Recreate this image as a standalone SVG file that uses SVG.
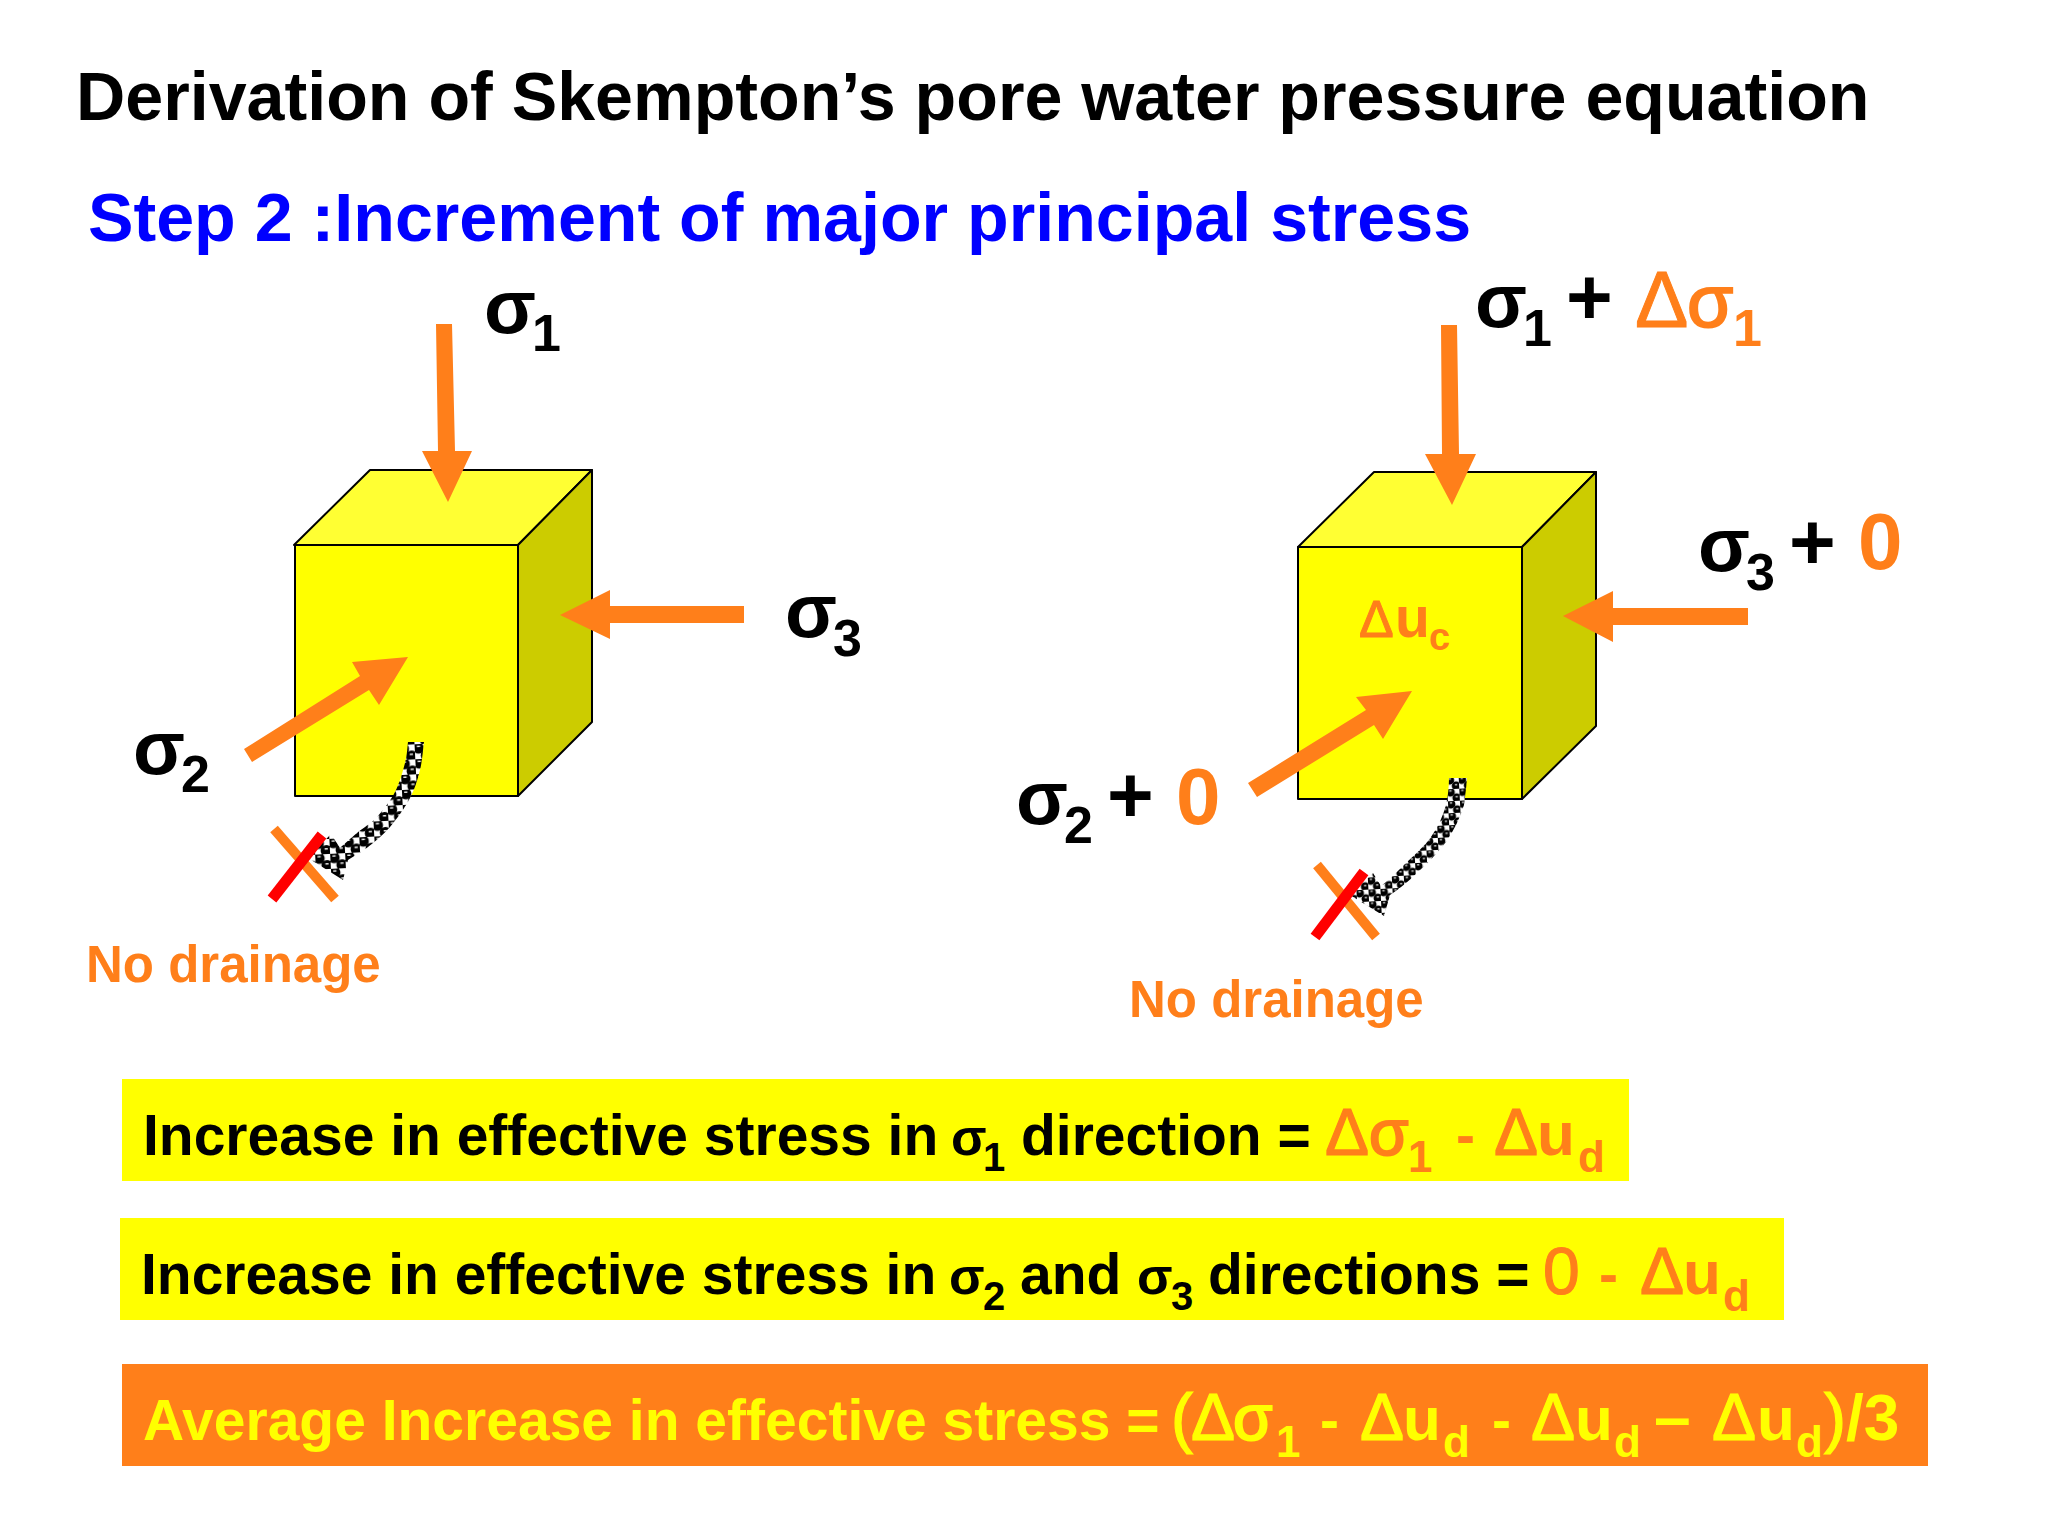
<svg xmlns="http://www.w3.org/2000/svg" width="2048" height="1536" viewBox="0 0 2048 1536">
<style>
text{font-family:"Liberation Sans",Arial,sans-serif;font-weight:700}
.k{fill:#000}.o{fill:#FF7F1A}.y{fill:#FFFF00}.b{fill:#0000FF}
.big{font-size:76px}.sub{font-size:52px}.plus{font-size:80px}
.t{font-size:57px}.s{font-size:52px}.sb{font-size:40px}
.r{font-weight:400;font-size:66px;stroke-width:1.2px}.o .r{stroke:#FF7F1A}.y .r{stroke:#FFFF00}
.rb{font-weight:400;font-size:64px;stroke-width:2px}.o .rb{stroke:#FF7F1A}.y .rb{stroke:#FFFF00}
.rs{font-weight:700;font-size:44px}.u{font-size:62px}
.R{font-weight:400;font-size:80px;stroke:#FF7F1A;stroke-width:1px}.Rb{font-weight:400;font-size:75px;stroke:#FF7F1A;stroke-width:2px}
.nd{font-size:51px}
.face{stroke:#000;stroke-width:2;stroke-linejoin:round}
.arr{fill:#FF7F1A}
.xo{stroke:#FF7F1A;stroke-width:10}.xr{stroke:#FF0000;stroke-width:11}
</style>
<defs>
<pattern id="chk" width="15" height="15" patternUnits="userSpaceOnUse" patternTransform="rotate(-3)">
<rect width="15" height="15" fill="#fff"/>
<rect x="0" y="0.5" width="7.5" height="7" fill="#000"/><rect x="7.5" y="8" width="7.5" height="7" fill="#000"/>
<circle cx="3.75" cy="4" r="5.6" fill="#000"/><circle cx="11.25" cy="11.5" r="5.6" fill="#000"/>
<rect x="2.2" y="1.6" width="3.2" height="1.4" fill="#fff"/><rect x="9.7" y="9.1" width="3.2" height="1.4" fill="#fff"/>
</pattern>
<pattern id="chk2" width="12" height="12" patternUnits="userSpaceOnUse" patternTransform="rotate(-3)">
<rect width="12" height="12" fill="#fff"/>
<circle cx="3" cy="3" r="4.4" fill="#000"/><circle cx="9" cy="9" r="4.4" fill="#000"/>
<rect x="1.8" y="1.3" width="2.4" height="1.1" fill="#fff"/><rect x="7.8" y="7.3" width="2.4" height="1.1" fill="#fff"/>
</pattern>
</defs>
<rect width="2048" height="1536" fill="#fff"/>

<g id="title"><text x="76" y="120" font-size="68.2" class="k">Derivation of Skempton’s pore water pressure equation</text></g>
<g id="subtitle"><text x="88" y="241" font-size="68.2" class="b">Step 2 :Increment of major principal stress</text></g>

<g id="cube-left">
<polygon class="face" points="294,545 370,470 592,470 518,545" fill="#FFFF33"/>
<polygon class="face" points="518,545 592,470 592,722 518,796" fill="#CCCC00"/>
<rect class="face" x="295" y="545" width="223" height="251" fill="#FFFF00"/>
</g>
<g id="cube-right">
<polygon class="face" points="1298,547 1374,472 1596,472 1522,547" fill="#FFFF33"/>
<polygon class="face" points="1522,547 1596,472 1596,726 1522,799" fill="#CCCC00"/>
<rect class="face" x="1298" y="547" width="224" height="252" fill="#FFFF00"/>
<text x="1359" y="637" class="o"><tspan style="font-weight:400;font-size:52px;stroke:#FF7F1A;stroke-width:1px">Δ</tspan><tspan x="1395" font-size="57">u</tspan><tspan x="1429" y="650" font-size="38">c</tspan></text>
</g>

<g id="connectors">
<polygon class="arr" points="436,324 452,324 455,451 472,451 448,502 422,451 438,451"/>
<polygon class="arr" points="744,606 744,623 610,623 610,639 560,615 610,590 610,606"/>
<polygon class="arr" points="244,749 252,762 369,690 379,705 408,657 352,662 360,676"/>
<polygon class="arr" points="1441,325 1457,325 1459,454 1476,454 1452,505 1425,454 1442,454"/>
<polygon class="arr" points="1748,608 1748,625 1613,625 1613,642 1563,616 1613,591 1613,608"/>
<polygon class="arr" points="1248,783 1257,797 1374,725 1383,739 1412,691 1356,697 1366,710"/>

<path fill="url(#chk)" d="M408,742 L424,742 C423.3,746.7 422.3,760.7 420,770 C417.7,779.3 415,788.5 410,798 C405,807.5 397,818.8 390,827 C383,835.2 375,841.5 368,847 C361,852.5 351.3,857.8 348,860 L343,880 L308,858 L331,834 L340,848 C342.8,845.5 350.8,838.2 357,833 C363.2,827.8 370.7,823.8 377,817 C383.3,810.2 390.3,801 395,792 C399.7,783 402.8,771.3 405,763 C407.2,754.7 407.5,745.5 408,742Z"/>
<line class="xo" x1="274" y1="829" x2="335" y2="899"/>
<line class="xr" x1="272" y1="899" x2="322" y2="835"/>

<path fill="url(#chk2)" d="M1449,778 L1467,778 C1466,790 1465,797 1464,805 C1460,818 1454,830 1446,842 C1437,853 1428,863 1417,873 C1409,881 1399,889 1390,895 L1384,916 L1350,895 L1373,873 L1381,886 C1390,879 1396,873 1405,864 C1414,855 1424,847 1431,837 C1438,827 1443,816 1446,805 C1448,796 1449,786 1449,778Z"/>
<line class="xo" x1="1317" y1="865" x2="1376" y2="937"/>
<line class="xr" x1="1364" y1="872" x2="1315" y2="937"/>
</g>

<g id="labels-left">
<text class="k"><tspan class="big" x="484" y="333">σ</tspan><tspan class="sub" x="532" y="351">1</tspan></text>
<text class="k"><tspan class="big" x="785" y="637">σ</tspan><tspan class="sub" x="833" y="656">3</tspan></text>
<text class="k"><tspan class="big" x="133" y="774">σ</tspan><tspan class="sub" x="181" y="792">2</tspan></text>
<text class="o nd" x="86" y="982">No drainage</text>
</g>
<g id="labels-right">
<text class="k"><tspan class="big" x="1475" y="327">σ</tspan><tspan class="sub" x="1523" y="346">1</tspan><tspan class="plus" x="1566" y="324">+</tspan></text>
<text class="o"><tspan class="R" x="1635" y="327">Δ</tspan><tspan class="Rb" x="1687">σ</tspan><tspan class="sub" x="1733" y="346">1</tspan></text>
<text class="k"><tspan class="big" x="1698" y="571">σ</tspan><tspan class="sub" x="1746" y="590">3</tspan><tspan class="plus" x="1789" y="569">+</tspan></text>
<text class="o plus" x="1858" y="569">0</text>
<text class="k"><tspan class="big" x="1016" y="824">σ</tspan><tspan class="sub" x="1064" y="843">2</tspan><tspan class="plus" x="1107" y="822">+</tspan></text>
<text class="o plus" x="1176" y="824">0</text>
<text class="o nd" x="1129" y="1017">No drainage</text>
</g>

<g id="bar-1">
<rect x="122" y="1079" width="1507" height="102" fill="#FFFF00"/>
<text class="k t"><tspan x="143" y="1155">Increase in effective stress in</tspan><tspan class="s" x="951">σ</tspan><tspan class="sb" x="983" y="1171">1</tspan><tspan x="1021" y="1155">direction =</tspan></text>
<text class="o t"><tspan class="r" x="1325" y="1155">Δ</tspan><tspan class="rb" x="1369">σ</tspan><tspan class="rs" x="1408" y="1172">1</tspan><tspan x="1456" y="1155">-</tspan><tspan class="r" x="1494">Δ</tspan><tspan class="u" x="1537">u</tspan><tspan class="rs" x="1578" y="1172">d</tspan></text>
</g>
<g id="bar-2">
<rect x="120" y="1218" width="1664" height="102" fill="#FFFF00"/>
<text class="k t"><tspan x="141" y="1294">Increase in effective stress in</tspan><tspan class="s" x="949">σ</tspan><tspan class="sb" x="983" y="1310">2</tspan><tspan x="1020" y="1294">and</tspan><tspan class="s" x="1137">σ</tspan><tspan class="sb" x="1171" y="1310">3</tspan><tspan x="1208" y="1294">directions =</tspan></text>
<text class="o t"><tspan class="r" x="1543" y="1294">0</tspan><tspan x="1599">-</tspan><tspan class="r" x="1640">Δ</tspan><tspan class="u" x="1683">u</tspan><tspan class="rs" x="1723" y="1311">d</tspan></text>
</g>
<g id="bar-3">
<rect x="122" y="1364" width="1806" height="102" fill="#FF7F1A"/>
<text class="y t"><tspan x="143" y="1440">Average Increase in effective stress =</tspan><tspan class="r" x="1171">(</tspan><tspan class="r" x="1191">Δ</tspan><tspan class="rb" x="1233">σ</tspan><tspan class="rs" x="1276" y="1457">1</tspan><tspan x="1320" y="1440">-</tspan><tspan class="r" x="1360">Δ</tspan><tspan class="u" x="1403">u</tspan><tspan class="rs" x="1443" y="1457">d</tspan><tspan x="1492" y="1440">-</tspan><tspan class="r" x="1531">Δ</tspan><tspan class="u" x="1575">u</tspan><tspan class="rs" x="1614" y="1457">d</tspan><tspan font-size="66" x="1654" y="1440">–</tspan><tspan class="r" x="1712">Δ</tspan><tspan class="u" x="1757">u</tspan><tspan class="rs" x="1796" y="1457">d</tspan><tspan class="r" x="1824" y="1440">)</tspan><tspan x="1846" font-size="64">/3</tspan></text>
</g>
</svg>
